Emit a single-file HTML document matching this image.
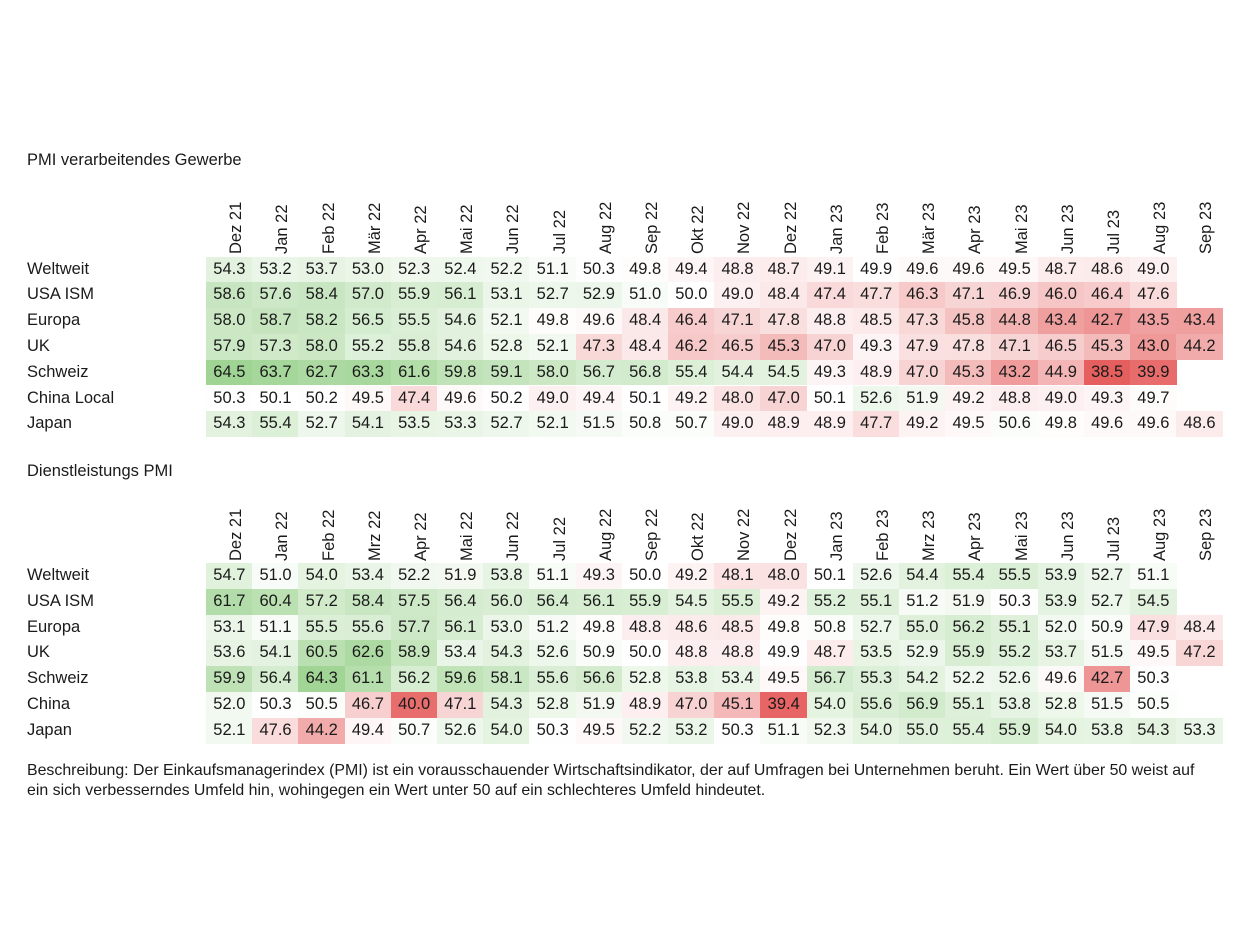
<!DOCTYPE html>
<html><head><meta charset="utf-8"><style>
body{margin:0;background:#fff;width:1249px;height:949px;position:relative;overflow:hidden;font-family:"Liberation Sans",Arial,sans-serif;color:#1a1a1a}
.t{position:absolute;font-size:16.5px}
.cell{position:absolute;height:25.8px;line-height:25.8px;text-align:center;font-size:16.5px}
.hd{position:absolute;font-size:16.5px;transform-origin:0 0;transform:rotate(-90deg);white-space:nowrap}
.rl{position:absolute;left:27px;font-size:16.5px;line-height:25.8px}
</style></head><body>
<div class="t" style="left:27px;top:151px">PMI verarbeitendes Gewerbe</div>
<div class="t" style="left:27px;top:462px">Dienstleistungs PMI</div>
<div style="position:absolute;left:27px;top:761px;font-size:15.9px;line-height:19.8px;width:1215px;white-space:nowrap">Beschreibung: Der Einkaufsmanagerindex (PMI) ist ein vorausschauender Wirtschaftsindikator, der auf Umfragen bei Unternehmen beruht. Ein Wert über 50 weist auf<br>ein sich verbesserndes Umfeld hin, wohingegen ein Wert unter 50 auf ein schlechteres Umfeld hindeutet.</div>
<div id="c"></div>
<script>
const months1=["Dez 21","Jan 22","Feb 22","Mär 22","Apr 22","Mai 22","Jun 22","Jul 22","Aug 22","Sep 22","Okt 22","Nov 22","Dez 22","Jan 23","Feb 23","Mär 23","Apr 23","Mai 23","Jun 23","Jul 23","Aug 23","Sep 23"];
const months2=["Dez 21","Jan 22","Feb 22","Mrz 22","Apr 22","Mai 22","Jun 22","Jul 22","Aug 22","Sep 22","Okt 22","Nov 22","Dez 22","Jan 23","Feb 23","Mrz 23","Apr 23","Mai 23","Jun 23","Jul 23","Aug 23","Sep 23"];
const rows1=["Weltweit","USA ISM","Europa","UK","Schweiz","China Local","Japan"];
const rows2=["Weltweit","USA ISM","Europa","UK","Schweiz","China","Japan"];
const mfgWeltweit=[54.3,53.2,53.7,53.0,52.3,52.4,52.2,51.1,50.3,49.8,49.4,48.8,48.7,49.1,49.9,49.6,49.6,49.5,48.7,48.6,49.0];
const mfgUSA=[58.6,57.6,58.4,57.0,55.9,56.1,53.1,52.7,52.9,51.0,50.0,49.0,48.4,47.4,47.7,46.3,47.1,46.9,46.0,46.4,47.6];
const mfgEuropa=[58.0,58.7,58.2,56.5,55.5,54.6,52.1,49.8,49.6,48.4,46.4,47.1,47.8,48.8,48.5,47.3,45.8,44.8,43.4,42.7,43.5,43.4];
const mfgUK=[57.9,57.3,58.0,55.2,55.8,54.6,52.8,52.1,47.3,48.4,46.2,46.5,45.3,47.0,49.3,47.9,47.8,47.1,46.5,45.3,43.0,44.2];
const mfgSchweiz=[64.5,63.7,62.7,63.3,61.6,59.8,59.1,58.0,56.7,56.8,55.4,54.4,54.5,49.3,48.9,47.0,45.3,43.2,44.9,38.5,39.9];
const mfgChina=[50.3,50.1,50.2,49.5,47.4,49.6,50.2,49.0,49.4,50.1,49.2,48.0,47.0,50.1,52.6,51.9,49.2,48.8,49.0,49.3,49.7];
const mfgJapan=[54.3,55.4,52.7,54.1,53.5,53.3,52.7,52.1,51.5,50.8,50.7,49.0,48.9,48.9,47.7,49.2,49.5,50.6,49.8,49.6,49.6,48.6];
const srvWeltweit=[54.7,51.0,54.0,53.4,52.2,51.9,53.8,51.1,49.3,50.0,49.2,48.1,48.0,50.1,52.6,54.4,55.4,55.5,53.9,52.7,51.1];
const srvUSA=[61.7,60.4,57.2,58.4,57.5,56.4,56.0,56.4,56.1,55.9,54.5,55.5,49.2,55.2,55.1,51.2,51.9,50.3,53.9,52.7,54.5];
const srvEuropa=[53.1,51.1,55.5,55.6,57.7,56.1,53.0,51.2,49.8,48.8,48.6,48.5,49.8,50.8,52.7,55.0,56.2,55.1,52.0,50.9,47.9,48.4];
const srvUK=[53.6,54.1,60.5,62.6,58.9,53.4,54.3,52.6,50.9,50.0,48.8,48.8,49.9,48.7,53.5,52.9,55.9,55.2,53.7,51.5,49.5,47.2];
const srvSchweiz=[59.9,56.4,64.3,61.1,56.2,59.6,58.1,55.6,56.6,52.8,53.8,53.4,49.5,56.7,55.3,54.2,52.2,52.6,49.6,42.7,50.3];
const srvChina=[52.0,50.3,50.5,46.7,40.0,47.1,54.3,52.8,51.9,48.9,47.0,45.1,39.4,54.0,55.6,56.9,55.1,53.8,52.8,51.5,50.5];
const srvJapan=[52.1,47.6,44.2,49.4,50.7,52.6,54.0,50.3,49.5,52.2,53.2,50.3,51.1,52.3,54.0,55.0,55.4,55.9,54.0,53.8,54.3,53.3];
const data1=[mfgWeltweit,mfgUSA,mfgEuropa,mfgUK,mfgSchweiz,mfgChina,mfgJapan];
const data2=[srvWeltweit,srvUSA,srvEuropa,srvUK,srvSchweiz,srvChina,srvJapan];
const X0=206,CW=46.2,RH=25.8;
function col(v){
  if(v>=50){const t=Math.min(1,(v-50)/14.5);return `rgb(${Math.round(255-t*95)},${Math.round(255-t*43)},${Math.round(255-t*107)})`;}
  const t=Math.min(1,(50-v)/11);return `rgb(${Math.round(255-t*25)},${Math.round(255-t*160)},${Math.round(255-t*160)})`;
}
const c=document.getElementById('c');
function table(months,rows,data,top,hdBottom,pfx){
  months.forEach((m,i)=>{
    const d=document.createElement('div');d.className='hd';d.textContent=m;
    
    
    d.style.left=(X0+i*CW+CW/2-2)+'px';d.style.top=hdBottom+'px';
    c.appendChild(d);
  });
  rows.forEach((r,j)=>{
    const l=document.createElement('div');l.className='rl';l.textContent=r;
    
    
    l.style.top=(top+j*RH)+'px';c.appendChild(l);
    data[j].forEach((v,i)=>{
      const e=document.createElement('div');e.className='cell';e.textContent=v.toFixed(1);
      
      
      e.style.left=(X0+i*CW)+'px';e.style.width=CW+0.5+'px';e.style.top=(top+j*RH)+'px';e.style.background=col(v);
      c.appendChild(e);
    });
  });
}
table(months1,rows1,data1,256.5,254,'manufacturing');
table(months2,rows2,data2,563,561,'services');
</script>
</body></html>
